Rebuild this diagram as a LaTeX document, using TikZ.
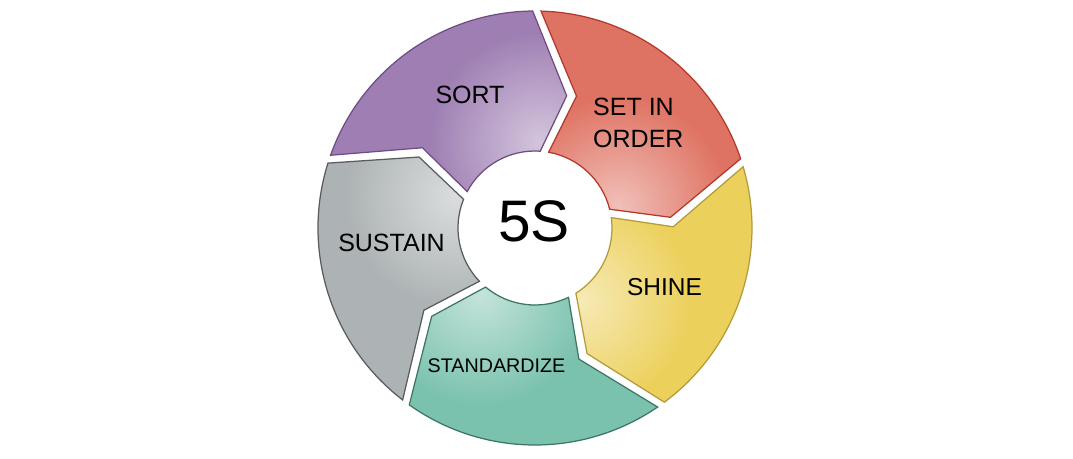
\documentclass[tikz,border=0pt]{standalone}
\usepackage{fontspec}
\setmainfont{Liberation Sans}
\definecolor{sortc}{HTML}{9F7FB3}
\definecolor{sortd}{HTML}{6E4D85}
\definecolor{setc}{HTML}{DF7363}
\definecolor{setd}{HTML}{B4382B}
\definecolor{shic}{HTML}{ECD05C}
\definecolor{shid}{HTML}{B39B3A}
\definecolor{stdc}{HTML}{7BC2AE}
\definecolor{stdd}{HTML}{3E7565}
\definecolor{susc}{HTML}{ADB3B4}
\definecolor{susd}{HTML}{595C5E}
% #1 = leading boundary angle, #2 = trailing boundary angle
\newcommand\fivespath[2]{({#2-1.09}:217pt) arc[start angle={#2-1.09}, end angle={#1+1.10}, radius=217pt] -- ({#1-12.98}:135.92pt) -- ({#1-3.40}:77pt) arc[start angle={#1-3.40}, end angle={#2-9.73}, radius=77pt] -- ({#2-16.99}:138.24pt) -- cycle}
\newcommand\fivesseg[4]{%
  \begin{scope}
    \clip \fivespath{#1}{#2};
    \fill[#3] \fivespath{#1}{#2};
    \shade[inner color=white!55!#3, outer color=#3] ({#1-3}:86pt) circle (110pt);
  \end{scope}
  \draw[#4, segline] \fivespath{#1}{#2};
}
\tikzset{
  segline/.style={line width=1.25pt, line join=miter},
  lbl/.style={inner sep=0pt, text=black, font=\fontsize{25}{32}\selectfont}
}
\begin{document}
\begin{tikzpicture}
\useasboundingbox (-535pt,-230pt) rectangle (538pt,228pt);
\fivesseg{17.5}{89.5}{setc}{setd}
\fivesseg{89.5}{161.5}{sortc}{sortd}
\fivesseg{161.5}{233.5}{susc}{susd}
\fivesseg{233.5}{305.5}{stdc}{stdd}
\fivesseg{305.5}{377.5}{shic}{shid}
\node[inner sep=0pt, font=\fontsize{58.6}{70}\selectfont] (center) at (-1pt,7pt) {5S};
\node[lbl] (sort) at (-65pt,133pt) {SORT};
\node[lbl, align=left, anchor=north west] (set) at (58pt,130pt) {SET IN\\ORDER};
\node[lbl, font=\fontsize{24.5}{30}\selectfont] (shine) at (129.5pt,-58.8pt) {SHINE};
\node[lbl, font=\fontsize{19.7}{24}\selectfont] (std) at (-38.5pt,-137.5pt) {STANDARDIZE};
\node[lbl] (sus) at (-143.5pt,-14.5pt) {SUSTAIN};
\end{tikzpicture}
\end{document}
